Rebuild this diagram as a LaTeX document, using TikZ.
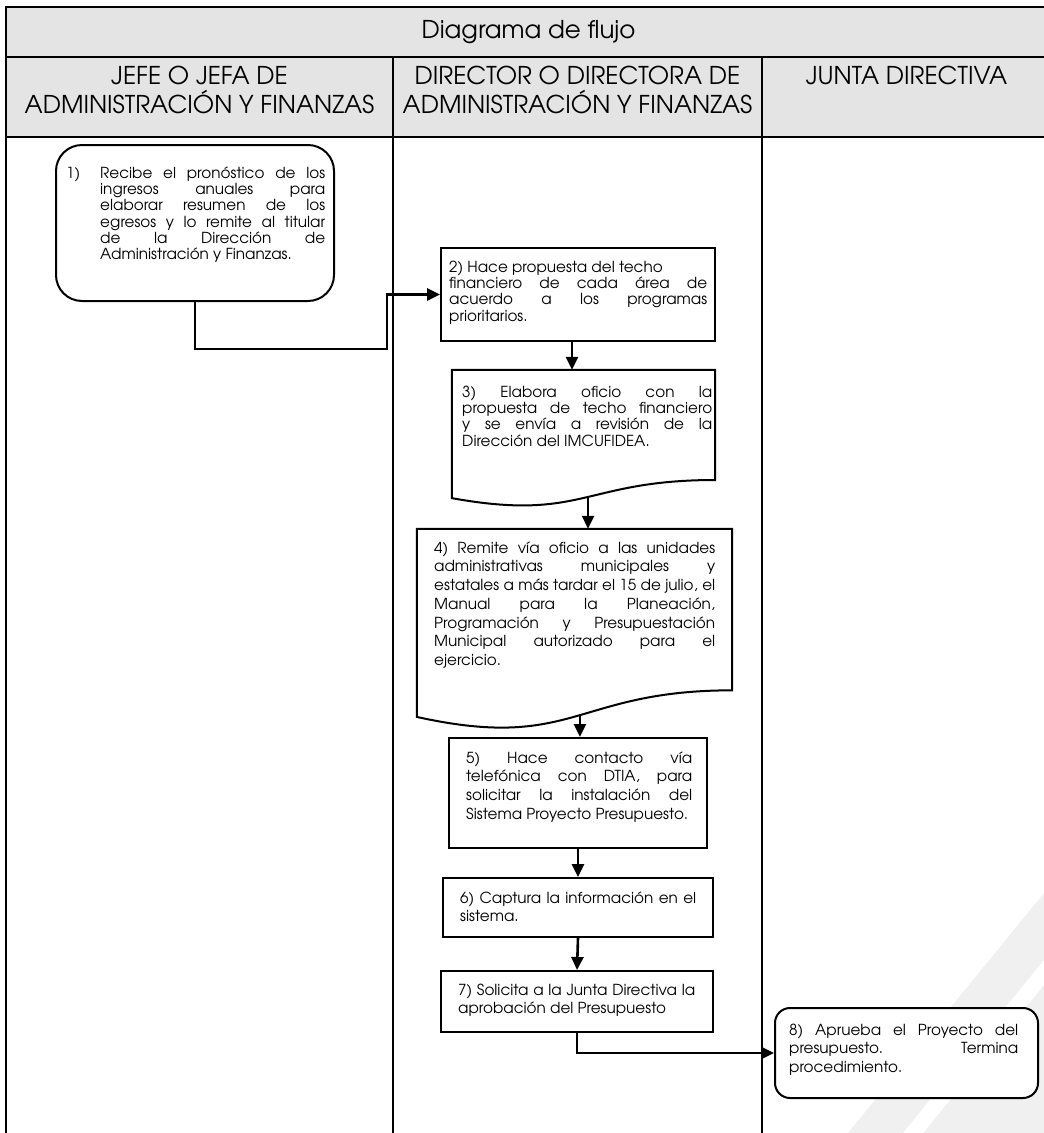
\documentclass[tikz,border=0pt]{standalone}
\usepackage{fontspec}
\setmainfont{texgyreadventor}[Extension=.otf,UprightFont=*-regular,BoldFont=*-bold,ItalicFont=*-italic,BoldItalicFont=*-bolditalic]
\usetikzlibrary{arrows.meta,calc}
\definecolor{headgray}{RGB}{228,228,228}
\definecolor{markgray}{RGB}{240,240,240}
\newlength\jw
% a fully justified line of the current text block
\newcommand\jl[1]{\makebox[\jw][s]{#1}}
% strut fixing the height of a block's first line
\newcommand\fl{\rule{0pt}{12pt}}
% text block of a given width, lines ended by \\
\newcommand\boxtext[2]{\parbox[t]{#1}{\setlength\jw{#1}#2}}

\tikzset{
  grid/.style={line width=1.3pt,draw=black},
  boxline/.style={draw=black,line width=2pt},
  procbox/.style={boxline,fill=white,rectangle,inner sep=0pt},
  roundbox/.style={boxline,fill=white,rectangle,rounded corners=#1,inner sep=0pt},
  docbox/.style={rectangle,inner sep=0pt},
  conn/.style={line width=2.6pt,-{Triangle[length=13pt,width=12pt]}},
  bodytext/.style={anchor=north west,inner sep=0pt,font=\fontsize{15.2}{16.3}\selectfont},
  bodywide/.style={bodytext,font=\fontsize{15.2}{18.7}\selectfont},
  headtext/.style={inner sep=0pt,align=center,font=\fontsize{24.5}{29.5}\selectfont},
}

\begin{document}
\begin{tikzpicture}[x=1pt,y=-1pt]
\useasboundingbox (0,0) rectangle (1044,1133);
\clip (0,0) rectangle (1044,1133);

% faint diagonal background mark, lower right
\fill[markgray] (848,1133) -- (1044,893) -- (1044,1133) -- cycle;
\fill[white] (903,1133) -- (1044,960) -- (1044,985) -- (923,1133) -- cycle;

% header band and table rules
\fill[headgray] (6,7) rectangle (1051,137);
\draw[grid] (6,1140) -- (6,7) -- (1051,7) -- (1051,1140);
\draw[grid] (6,57) -- (1051,57);
\draw[grid] (6,137) -- (1051,137);
\draw[grid] (393,57) -- (393,1140);
\draw[grid] (762,57) -- (762,1140);

\node[headtext,anchor=base] (title) at (528.5,38) {Diagrama de flujo};
\node[headtext,anchor=north] (h1) at (199.5,65) {\rule{0pt}{19pt}JEFE O JEFA DE\\ADMINISTRACIÓN Y FINANZAS};
\node[headtext,anchor=north] (h2) at (577.5,65) {\rule{0pt}{19pt}DIRECTOR O DIRECTORA DE\\ADMINISTRACIÓN Y FINANZAS};
\node[headtext,anchor=north] (h3) at (906.5,65) {\rule{0pt}{19pt}JUNTA DIRECTIVA};

% process boxes
\node[roundbox=26pt,minimum width=278pt,minimum height=156pt] (n1) at (195,223) {};
\node[procbox,minimum width=274pt,minimum height=93pt] (n2) at (578,294.5) {};
\node[docbox,minimum width=263pt,minimum height=137pt] (n3) at (583.5,438.5) {};
\node[docbox,minimum width=315pt,minimum height=201pt] (n4) at (574.5,629.5) {};
\node[procbox,minimum width=258pt,minimum height=110pt] (n5) at (578,793) {};
\node[procbox,minimum width=270pt,minimum height=59pt] (n6) at (578,907.5) {};
\node[procbox,minimum width=272pt,minimum height=61pt] (n7) at (577,1001.5) {};
\node[roundbox=15pt,minimum width=263pt,minimum height=90pt] (n8) at (906.5,1053) {};

% document outlines with wavy lower edge
\foreach \d/\w in {n3/w3,n4/w4}{
  \draw[boxline] let \p1=(\d.north west),\p2=(\d.south east),\n1={\y1-\y2} in
    (\p1) -- (\x2,\y1) -- (\x2,{\y1-0.802*\n1})
    .. controls ({(\x1+\x2)/2},{\y1-0.802*\n1}) and ({(\x1+\x2)/2},{\y1-1.107*\n1}) .. (\x1,{\y1-0.934*\n1})
    coordinate[pos=0.477] (\w) -- cycle;
}

% box texts
\node[bodytext] (t1) at (66,166)
  {\makebox[34pt][l]{\fl 1)}\boxtext{225pt}{%
   \jl{\fl Recibe el pronóstico de los}\\
   \jl{ingresos anuales para}\\
   \jl{elaborar resumen de los}\\
   \jl{egresos y lo remite al titular}\\
   \jl{de la Dirección de}\\
   Administración y Finanzas.}};

\node[bodytext] (t2) at (449,260) {\boxtext{258pt}{%
   \fl 2) Hace propuesta del techo\\
   \jl{financiero de cada área de}\\
   \jl{acuerdo a los programas}\\
   prioritarios.}};

\node[bodytext] (t3) at (462,385) {\boxtext{250pt}{%
   \jl{\fl 3) Elabora oficio con la}\\
   \jl{propuesta de techo financiero}\\
   \jl{y se envía a revisión de la}\\
   Dirección del IMCUFIDEA.}};

\node[bodywide] (t4) at (434,541) {\boxtext{281pt}{%
   \jl{\fl 4) Remite vía oficio a las unidades}\\
   \jl{administrativas municipales y}\\
   \jl{estatales a más tardar el 15 de julio, el}\\
   \jl{Manual para la Planeación,}\\
   \jl{Programación y Presupuestación}\\
   \jl{Municipal autorizado para el}\\
   ejercicio.}};

\node[bodywide] (t5) at (466,751) {\boxtext{226pt}{%
   \jl{\fl 5) Hace contacto vía}\\
   \jl{telefónica con DTIA, para}\\
   \jl{solicitar la instalación del}\\
   Sistema Proyecto Presupuesto.}};

\node[bodywide] (t6) at (460,891) {\boxtext{236pt}{%
   \jl{\fl 6) Captura la información en el}\\
   sistema.}};

\node[bodywide] (t7) at (458,983) {\boxtext{237pt}{%
   \jl{\fl 7) Solicita a la Junta Directiva la}\\
   aprobación del Presupuesto}};

\node[bodywide] (t8) at (789,1023) {\boxtext{229pt}{%
   \jl{\fl 8) Aprueba el Proyecto del}\\
   \jl{presupuesto. Termina}\\
   procedimiento.}};

% connectors
\coordinate (j1) at (387,349);
\draw[conn] (n1.south) |- (j1) |- (n2.west);
\draw[conn] ([xshift=-6pt]n2.south) -- ([xshift=-6pt]n2.south |- n3.north);
\draw[conn] (w3) -- (w3 |- n4.north);
\draw[conn] (w4) -- (w4 |- n5.north);
\draw[conn] (n5.south) -- (n6.north);
\draw[conn] (n6.south) -- (n7.north);
\draw[conn] (n7.south) |- (n8.west);
\end{tikzpicture}
\end{document}
